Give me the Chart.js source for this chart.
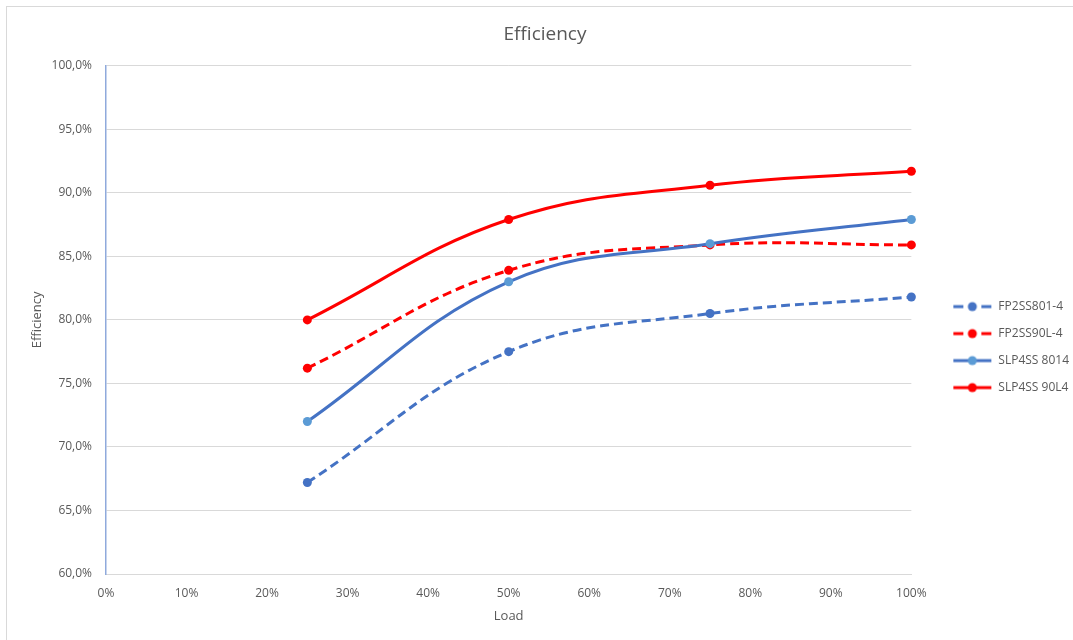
<!DOCTYPE html>
<html>
<head>
<meta charset="utf-8">
<script src="https://cdn.jsdelivr.net/npm/chart.js@4"></script>
<style>
  html, body { margin: 0; padding: 0; background: #fff; overflow: hidden; }
  #wrap { position: relative; width: 1073px; height: 640px; overflow: hidden; }
  #frame { position: absolute; left: 6px; top: 6px; width: 1200px; height: 800px;
           border-left: 1px solid #d9d9d9; border-top: 1px solid #d9d9d9; pointer-events: none; }
  canvas { position: absolute; left: 0; top: 0; }
</style>
</head>
<body>
<div id="wrap">
  <div id="frame"></div>
  <canvas id="effChart" width="1090" height="640"></canvas>
</div>
<script>
// ===== DATA =====
const loadPct     = [25, 50, 75, 100];
const seriesNames = ["FP2SS801-4", "FP2SS90L-4", "SLP4SS 8014", "SLP4SS 90L4"];
const fp2ss801    = [67.2, 77.5, 80.5, 81.8];
const fp2ss90l    = [76.2, 83.9, 85.9, 85.9];
const slp4ss8014  = [72.0, 83.0, 86.0, 87.9];
const slp4ss90l4  = [80.0, 87.9, 90.6, 91.7];
const yTicks      = [60, 65, 70, 75, 80, 85, 90, 95, 100];
const xTicks      = [0, 10, 20, 30, 40, 50, 60, 70, 80, 90, 100];

const BLUE = "#4472C4";
const LIGHT_BLUE = "#5B9BD5";
const RED = "#FF0000";
const GREY_TEXT = "#595959";
const FONT = "'Open Sans', 'Liberation Sans', sans-serif";

const toPoints = vals => vals.map((v, i) => ({ x: loadPct[i], y: v }));

// legend sample: line + marker, drawn into a small canvas
function legendSample(lineColor, markerColor, dashed) {
  const c = document.createElement("canvas");
  c.width = 40; c.height = 12;
  const g = c.getContext("2d");
  g.strokeStyle = lineColor;
  g.lineWidth = 3;
  g.beginPath();
  if (dashed) {
    g.moveTo(1, 6); g.lineTo(11, 6);
    g.moveTo(29, 6); g.lineTo(39, 6);
  } else {
    g.moveTo(1, 6); g.lineTo(39, 6);
  }
  g.stroke();
  g.fillStyle = markerColor;
  g.beginPath();
  g.arc(20, 6, 4.5, 0, Math.PI * 2);
  g.fill();
  return c;
}

const samples = [
  legendSample(BLUE, BLUE, true),
  legendSample(RED, RED, true),
  legendSample(BLUE, LIGHT_BLUE, false),
  legendSample(RED, RED, false)
];

const common = {
  borderWidth: 3,
  pointRadius: 4.5,
  pointHoverRadius: 5,
  pointBorderWidth: 0,
  tension: 0.4,
  fill: false,
  clip: false
};

new Chart(document.getElementById("effChart"), {
  type: "line",
  data: {
    datasets: [
      { ...common, label: seriesNames[0], data: toPoints(fp2ss801),
        borderColor: BLUE, pointBackgroundColor: BLUE, borderDash: [9, 5], order: 4 },
      { ...common, label: seriesNames[1], data: toPoints(fp2ss90l),
        borderColor: RED, pointBackgroundColor: RED, borderDash: [9, 5], order: 3 },
      { ...common, label: seriesNames[2], data: toPoints(slp4ss8014),
        borderColor: BLUE, pointBackgroundColor: LIGHT_BLUE, order: 2 },
      { ...common, label: seriesNames[3], data: toPoints(slp4ss90l4),
        borderColor: RED, pointBackgroundColor: RED, order: 1 }
    ]
  },
  options: {
    responsive: false,
    animation: false,
    layout: { padding: { left: 11, right: 11, top: 11, bottom: 14 } },
    plugins: {
      title: {
        display: true,
        text: "Efficiency",
        color: GREY_TEXT,
        font: { family: FONT, size: 19, weight: "normal" },
        padding: { top: 12, bottom: 20 }
      },
      legend: {
        position: "right",
        fullSize: false,
        labels: {
          color: GREY_TEXT,
          font: { family: FONT, size: 12 },
          padding: 15,
          usePointStyle: true,
          pointStyleWidth: 40,
          generateLabels: chart => {
            const items = Chart.defaults.plugins.legend.labels.generateLabels(chart);
            items.forEach(it => { it.pointStyle = samples[it.datasetIndex]; });
            items.sort((a, b) => a.datasetIndex - b.datasetIndex);
            return items;
          }
        },
        title: { display: true, text: "", padding: { top: 0, bottom: 40 } }
      },
      tooltip: { enabled: false }
    },
    scales: {
      x: {
        type: "linear",
        min: 0,
        max: 100,
        afterBuildTicks: s => { s.ticks = xTicks.map(v => ({ value: v })); },
        grid: { display: false, drawTicks: false },
        border: { display: true, color: "#d9d9d9", width: 1 },
        ticks: {
          color: GREY_TEXT,
          font: { family: FONT, size: 12 },
          padding: 12,
          maxRotation: 0,
          callback: v => v + "%"
        },
        title: {
          display: true,
          text: "Load",
          color: GREY_TEXT,
          font: { family: FONT, size: 13 },
          padding: { top: 0, bottom: 2 }
        },
        afterFit: s => { s.height = 52; }
      },
      y: {
        min: 60,
        max: 100,
        afterBuildTicks: s => { s.ticks = yTicks.map(v => ({ value: v })); },
        grid: { color: "#d9d9d9", lineWidth: 1, drawTicks: false },
        border: { display: true, color: "#8FAADC", width: 1.5 },
        ticks: {
          color: GREY_TEXT,
          font: { family: FONT, size: 12 },
          padding: 14,
          callback: v => v.toFixed(1).replace(".", ",") + "%"
        },
        title: {
          display: true,
          text: "Efficiency",
          color: GREY_TEXT,
          font: { family: FONT, size: 13 },
          padding: { top: 18, bottom: 0 }
        },
        afterFit: s => { s.width = 95; }
      },
      gap: {
        position: "right",
        display: true,
        grid: { display: false },
        border: { display: false },
        ticks: { display: false },
        afterFit: s => { s.width = 26; }
      }
    }
  }
});
</script>
</body>
</html>
